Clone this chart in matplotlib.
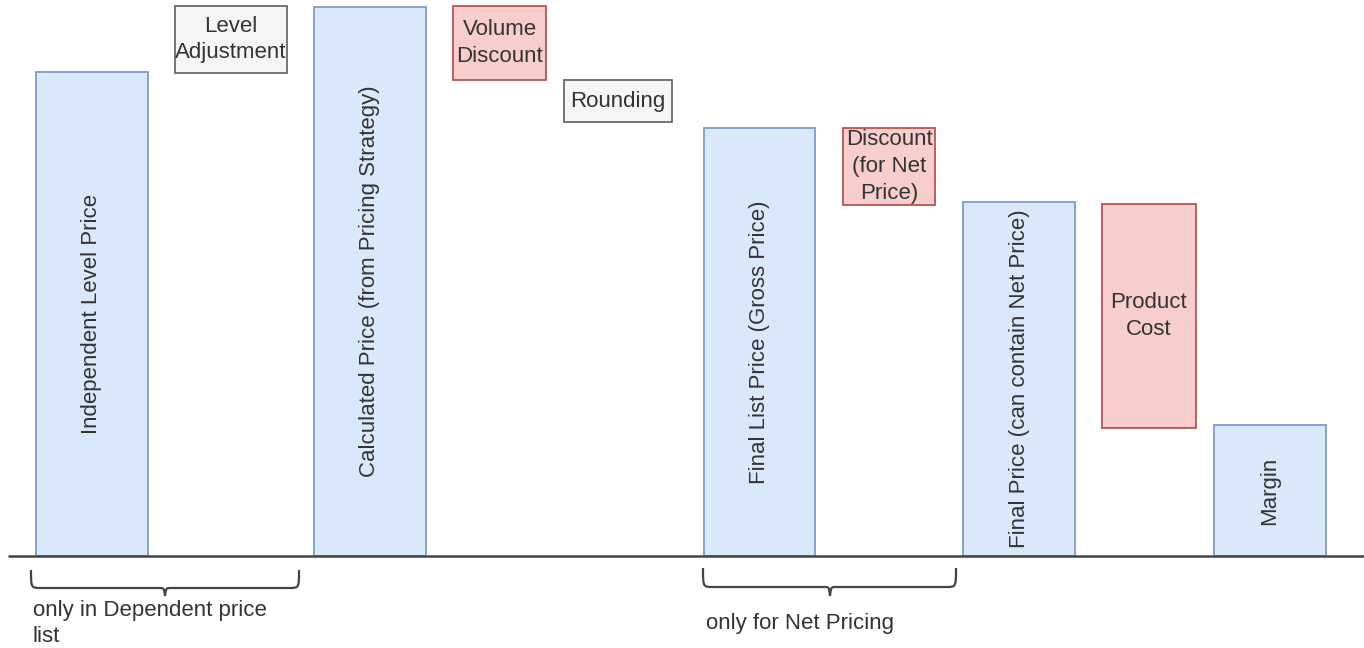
import matplotlib
matplotlib.use("Agg")
import matplotlib.pyplot as plt
from matplotlib.path import Path
from matplotlib.patches import PathPatch

plt.rcParams['font.family'] = ['Liberation Sans', 'DejaVu Sans']

# Price waterfall steps
labels = [
    "Independent Level Price",
    "Level\nAdjustment",
    "Calculated Price (from Pricing Strategy)",
    "Volume\nDiscount",
    "Rounding",
    "Final List Price (Gross Price)",
    "Discount\n(for Net\nPrice)",
    "Final Price (can contain Net Price)",
    "Product\nCost",
    "Margin",
]
bottoms = [0, 483, 0, 476, 434, 0, 351, 0, 128, 0]
heights = [484, 67, 549, 74, 42, 428, 77, 354, 224, 131]
kinds = ["total", "adjust", "total", "discount", "adjust",
         "total", "discount", "total", "discount", "total"]

brace_texts = ["only in Dependent price\nlist", "only for Net Pricing"]

# Layout
x_centers = [92, 231, 370, 499.5, 618, 759.5, 889, 1019, 1149, 1270]
widths = [112, 112, 112, 93, 108, 111, 92, 112, 94, 112]
styles = {
    "total": dict(fc="#dae8fc", ec="#7f9cc8"),
    "adjust": dict(fc="#f5f5f5", ec="#6a6a6a"),
    "discount": dict(fc="#f8cecc", ec="#b85450"),
}
text_color = "#333333"
fs = 16

fig = plt.figure(figsize=(13.64, 6.48), dpi=100)
ax = fig.add_axes([0, 0, 1, 1])
ax.set_xlim(0, 1364)
ax.set_ylim(-92, 556)
ax.axis("off")

for lab, b, h, k, xc, w in zip(labels, bottoms, heights, kinds, x_centers, widths):
    st = styles[k]
    ax.bar(xc, h, width=w, bottom=b, color=st["fc"], edgecolor=st["ec"],
           linewidth=1.3, zorder=2)
    rot = 90 if k == "total" else 0
    ax.text(xc, b + h / 2, lab, rotation=rot, ha="center", va="center",
            fontsize=fs, color=text_color, linespacing=1.35, zorder=3)

# Baseline
ax.plot([8, 1364], [0, 0], color="#444444", lw=1.8, zorder=4, solid_capstyle="butt")


def brace(x0, x1, xm, ytop, yline, ytip):
    r = 10
    verts = [
        (x0, ytop), (x0, yline), (x0, yline), (x0 + r, yline),
        (xm - 6, yline), (xm - 1, yline), (xm - 1, yline), (xm, ytip),
        (xm + 1, yline), (xm + 1, yline), (xm + 6, yline),
        (x1 - r, yline), (x1, yline), (x1, yline), (x1, ytop),
    ]
    codes = [Path.MOVETO, Path.CURVE4, Path.CURVE4, Path.CURVE4,
             Path.LINETO, Path.CURVE4, Path.CURVE4, Path.CURVE4,
             Path.CURVE4, Path.CURVE4, Path.CURVE4,
             Path.LINETO, Path.CURVE4, Path.CURVE4, Path.CURVE4]
    ax.add_patch(PathPatch(Path(verts, codes), fill=False, ec="#444444", lw=1.6, zorder=4))


brace(31, 299, 165, -14, -32, -40)
brace(703, 956, 830, -12, -31, -40)

ax.text(33, -44, brace_texts[0], ha="left", va="top", fontsize=fs,
        color=text_color, linespacing=1.3)
ax.text(706, -67, brace_texts[1], ha="left", va="center", fontsize=fs,
        color=text_color)

fig.savefig("out.png", dpi=100, facecolor="white")
